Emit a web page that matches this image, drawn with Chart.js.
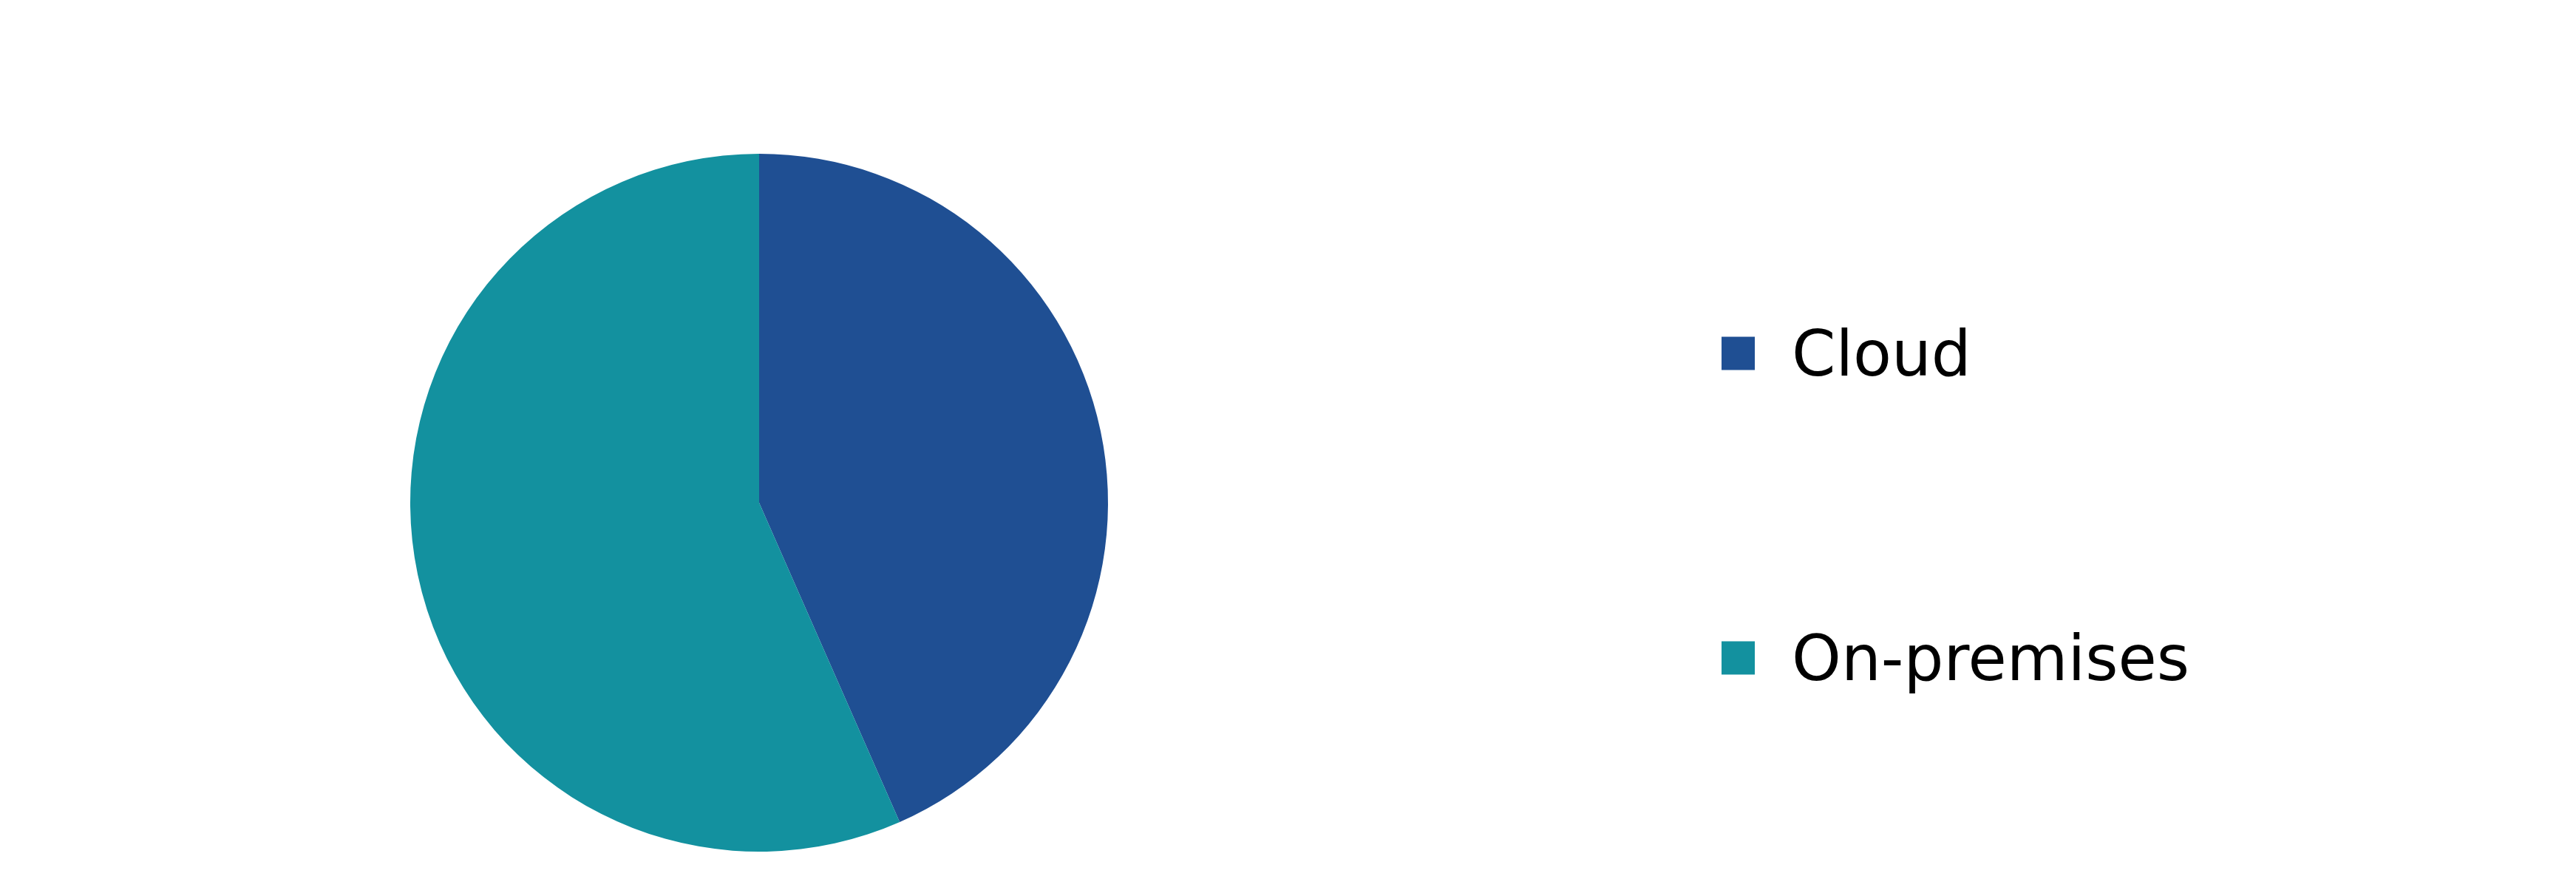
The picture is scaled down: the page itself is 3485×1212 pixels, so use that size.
<!DOCTYPE html>
<html>
<head>
<meta charset="utf-8">
<script src="https://cdn.jsdelivr.net/npm/chart.js@4.4.1/dist/chart.umd.min.js"></script>
<style>
  html, body { margin: 0; padding: 0; background: #ffffff; overflow: hidden; }
  #wrap { width: 3485px; height: 1212px; position: relative; }
</style>
</head>
<body>
<div id="wrap"><canvas id="chart"></canvas></div>
<script>
// ── Data ──────────────────────────────────────────
const labels = ['Cloud', 'On-premises'];
const shares = [43.4, 56.6];
const colors = ['#1f4f93', '#13919f'];

// ── Legend drawn on canvas, right side ────────────
const sideLegend = {
  id: 'sideLegend',
  afterDraw(chart) {
    const ctx = chart.ctx;
    const W = chart.width, H = chart.height;
    const box = 45, boxX = W * 0.6683, textX = boxX + box + 50;
    const rows = [H * 0.3944, H * 0.7343];
    ctx.save();
    ctx.font = '85px "DejaVu Sans", Verdana, sans-serif';
    ctx.textAlign = 'left'; ctx.textBaseline = 'alphabetic';
    chart.data.labels.forEach((lbl, i) => {
      const cy = rows[i];
      ctx.fillStyle = chart.data.datasets[0].backgroundColor[i];
      ctx.fillRect(boxX, cy - box / 2, box, box);
      ctx.fillStyle = '#000000';
      ctx.fillText(lbl, textX, cy + 30);
    });
    ctx.restore();
  }
};

new Chart(document.getElementById('chart'), {
  type: 'pie',
  data: {
    labels: labels,
    datasets: [{
      data: shares,
      backgroundColor: colors,
      borderWidth: 0,
      hoverOffset: 0
    }]
  },
  options: {
    responsive: true, maintainAspectRatio: false,
    devicePixelRatio: 1,
    animation: false,
    layout: { padding: { left: 555, right: 1986, top: 208, bottom: 60 } },
    plugins: {
      legend: { display: false },
      tooltip: { enabled: false }
    }
  },
  plugins: [sideLegend]
});
</script>
</body>
</html>
